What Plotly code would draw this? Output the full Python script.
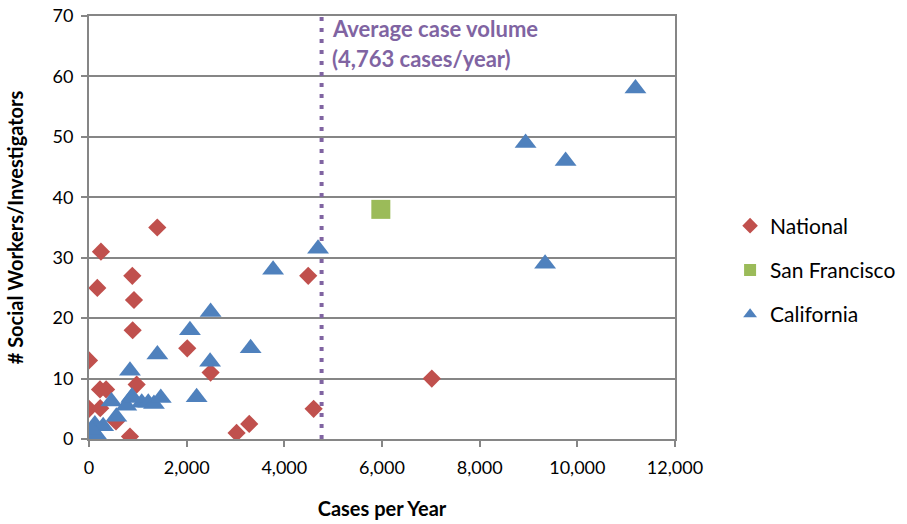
import plotly.graph_objects as go

# ---- data ----
national_x = [0, 0, 170, 245, 887, 921, 894, 1398, 225, 350, 230, 553, 839, 976,
              2012, 2490, 3022, 3281, 4489, 4600, 7020]
national_y = [13, 5, 25, 31, 27, 23, 18, 35, 8.2, 8.2, 5.1, 2.9, 0.4, 9,
              15, 11, 1, 2.5, 27, 5, 10]

sf_x = [5976]
sf_y = [38]

california_x = [11190, 8940, 9760, 9340, 4690, 3770, 2490, 2067, 1400, 2480, 3310,
                839, 2204, 880, 1080, 1214, 1330, 1470, 460, 560, 764, 866,
                120, 290, 80, 150, 50]
california_y = [58, 49, 46, 29, 31.5, 28, 21, 18, 14, 12.8, 15,
                11.3, 6.9, 7, 6, 6, 5.8, 6.8, 6.2, 3.7, 5.5, 6.8,
                2.4, 2.1, 1.3, 0.7, 1.5]

avg_cases = 4763
avg_label_lines = ["Average case volume", "(4,763 cases/year)"]
avg_label_y = [68, 63]

x_ticks = [0, 2000, 4000, 6000, 8000, 10000, 12000]
y_ticks = [0, 10, 20, 30, 40, 50, 60, 70]

FONT = "Lato"
GRID = "#868686"

fig = go.Figure()

fig.add_trace(go.Scatter(
    x=[avg_cases, avg_cases], y=[0, 70], mode="lines",
    line=dict(color="#8064A2", width=4, dash="4px,7px"),
    showlegend=False, hoverinfo="skip"))

fig.add_trace(go.Scatter(
    x=national_x, y=national_y, mode="markers", name="National",
    legendgroup="a",
    marker=dict(symbol="diamond", size=14, color="#C0504D")))
fig.add_trace(go.Scatter(
    x=sf_x, y=sf_y, mode="markers", name="San Francisco",
    legendgroup="b",
    marker=dict(symbol="square", size=19, color="#9BBB59")))
fig.add_trace(go.Scatter(
    x=california_x, y=california_y, mode="markers", name="California",
    legendgroup="c",
    marker=dict(symbol="triangle-up", size=19, color="#4F81BD")))

for line, ly in zip(avg_label_lines, avg_label_y):
    fig.add_annotation(
        x=avg_cases, y=ly, xref="x", yref="y",
        text=f"<b>{line}</b>", showarrow=False, xanchor="left", yanchor="middle",
        xshift=8, font=dict(family=FONT, size=22, color="#8064A2"))

fig.update_xaxes(
    range=[0, 12000], tickvals=x_ticks,
    ticktext=[f"{v:,}" for v in x_ticks],
    showline=True, linecolor=GRID, linewidth=2, mirror=True,
    showgrid=False, zeroline=False, automargin=False,
    ticks="outside", ticklen=6, tickcolor=GRID, tickwidth=2,
    ticklabelstandoff=5,
    tickfont=dict(family=FONT, size=18, color="#000"),
    title=dict(text="<b>Cases per Year</b>", standoff=25,
               font=dict(family=FONT, size=20, color="#000")))
fig.update_yaxes(
    range=[0, 70], tickvals=y_ticks,
    showline=True, linecolor=GRID, linewidth=2, mirror=True,
    showgrid=True, gridcolor=GRID, gridwidth=2, zeroline=False, automargin=False,
    ticks="outside", ticklen=6, tickcolor=GRID, tickwidth=2,
    ticklabelstandoff=4,
    tickfont=dict(family=FONT, size=18, color="#000"),
    title=dict(text="<b># Social Workers/Investigators</b>", standoff=24,
               font=dict(family=FONT, size=20, color="#000")))

fig.update_layout(
    width=907, height=524,
    margin=dict(l=89, r=232, t=16, b=85, autoexpand=False),
    plot_bgcolor="white", paper_bgcolor="white",
    font=dict(family=FONT, color="#000"),
    legend=dict(x=1.094, y=0.552, xanchor="left", yanchor="top",
                font=dict(family=FONT, size=21, color="#000"),
                tracegroupgap=14, itemsizing="constant"),
)

fig.write_html("out.html")
